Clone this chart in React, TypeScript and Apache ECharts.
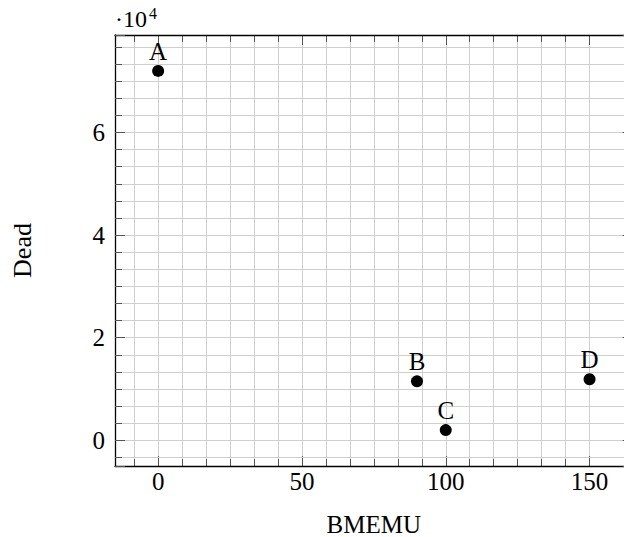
import React, { useEffect, useRef } from 'react';
import * as echarts from 'echarts';

const pointNames = ['A', 'B', 'C', 'D'];
const bmemuValues = [0, 90, 100, 150];
const deadValues = [72000, 11500, 2000, 11900];
const xLabelValues = [0, 50, 100, 150];
const yLabelValues = [0, 20000, 40000, 60000];
const xRange = [-15, 165];
const xGridMax = 150; // last x grid line / tick value
const yRange = [-5000, 79000];
const xTitle = 'BMEMU';
const yTitle = 'Dead';
const scaleBase = '·10';
const scaleExp = '4';
const yScaleDivisor = 10000;

const FONT = "'Liberation Serif', 'Times New Roman', serif";

export default function App() {
  const ref = useRef<HTMLDivElement>(null);
  useEffect(() => {
    const chart = echarts.init(ref.current!, null, { renderer: 'svg' });
    const W = 624;
    const plotLeft = 115;
    const plotRight = 632.7; // right frame lies just beyond the page edge
    const pxPerUnit = (plotRight - plotLeft) / (xRange[1] - xRange[0]);
    const gridMaxPx = plotLeft + (xGridMax - xRange[0]) * pxPerUnit;

    const gridColor = '#cfcfcf';
    const tickColor = '#555';
    const axisLineStyle = { color: '#000', width: 1.3 };
    const tickOn = {
      axisTick: { show: true, inside: true, length: 10, lineStyle: { color: tickColor, width: 1 } },
      minorTick: { show: true, splitNumber: 6, length: 7, lineStyle: { color: tickColor, width: 1 } },
    };
    const tickOff = { axisTick: { show: false }, minorTick: { show: false } };
    const lineOn = { axisLine: { show: true, onZero: false, lineStyle: axisLineStyle } };
    const lineOff = { axisLine: { show: false, onZero: false } };
    const noSplit = { splitLine: { show: false }, minorSplitLine: { show: false } };

    const data = bmemuValues.map((x, i) => ({ name: pointNames[i], value: [x, deadValues[i]] }));
    chart.setOption({
      animation: false,
      grid: [
        { left: plotLeft, top: 35, right: W - plotRight, bottom: 71, containLabel: false, outerBoundsMode: 'none' },
        { left: plotLeft, top: 35, right: W - gridMaxPx, bottom: 71, containLabel: false, outerBoundsMode: 'none' },
      ],
      xAxis: [
        {
          gridIndex: 0, type: 'value', min: xRange[0], max: xRange[1], splitNumber: 4, position: 'bottom',
          ...lineOn, ...tickOff, ...noSplit,
          axisLabel: {
            show: true, margin: 3, color: '#000', fontSize: 25, fontFamily: FONT,
            formatter: (v: number) => (xLabelValues.includes(v) ? String(v) : ''),
          },
          name: xTitle, nameLocation: 'middle', nameGap: 48,
          nameTextStyle: { color: '#000', fontSize: 25, lineHeight: 20, fontFamily: FONT },
          z: 4,
        },
        {
          gridIndex: 0, type: 'value', min: xRange[0], max: xRange[1], splitNumber: 4, position: 'top',
          ...lineOn, ...tickOff, ...noSplit,
          axisLabel: { show: false },
          z: 4,
        },
        {
          gridIndex: 1, type: 'value', min: xRange[0], max: xGridMax, splitNumber: 4, position: 'bottom',
          ...lineOff, ...tickOn,
          axisLabel: { show: false },
          splitLine: { show: true, showMinLine: false, lineStyle: { color: gridColor, width: 1 } },
          minorSplitLine: { show: true, lineStyle: { color: gridColor, width: 1 } },
        },
        {
          gridIndex: 1, type: 'value', min: xRange[0], max: xGridMax, splitNumber: 4, position: 'top',
          ...lineOff, ...tickOn, ...noSplit,
          axisLabel: { show: false },
        },
      ],
      yAxis: [
        {
          gridIndex: 0, type: 'value', min: yRange[0], max: yRange[1], splitNumber: 4, position: 'left',
          ...lineOn, ...tickOn,
          axisLabel: {
            show: true, margin: 10, color: '#000', fontSize: 25, fontFamily: FONT,
            formatter: (v: number) => (yLabelValues.includes(v) ? String(v / yScaleDivisor) : ''),
          },
          splitLine: { show: true, showMinLine: false, showMaxLine: false, lineStyle: { color: gridColor, width: 1 } },
          minorSplitLine: { show: true, lineStyle: { color: gridColor, width: 1 } },
          name: yTitle, nameLocation: 'middle', nameGap: 80,
          nameTextStyle: { color: '#000', fontSize: 26, fontFamily: FONT },
          z: 4,
        },
        {
          gridIndex: 0, type: 'value', min: yRange[0], max: yRange[1], splitNumber: 4, position: 'right',
          ...lineOn, ...tickOn, ...noSplit,
          axisLabel: { show: false },
          z: 4,
        },
        {
          gridIndex: 1, type: 'value', min: yRange[0], max: yRange[1], show: false,
          ...noSplit,
        },
      ],
      graphic: [
        {
          type: 'text', x: 115, y: 19,
          style: { text: scaleBase, fontSize: 24, fontFamily: FONT, fill: '#000', verticalAlign: 'middle' },
        },
        {
          type: 'text', x: 149, y: 13,
          style: { text: scaleExp, fontSize: 16, fontFamily: FONT, fill: '#000', verticalAlign: 'middle' },
        },
      ],
      series: [
        {
          type: 'scatter',
          xAxisIndex: 0,
          yAxisIndex: 0,
          data,
          symbol: 'circle',
          symbolSize: 12,
          itemStyle: { color: '#000', opacity: 1 },
          label: {
            show: true, position: 'top', distance: 1, color: '#000',
            fontSize: 25, fontFamily: FONT,
            formatter: (p: any) => p.name,
          },
          z: 5,
        },
      ],
    });
    return () => chart.dispose();
  }, []);
  return (
    <div
      ref={ref}
      style={{ position: 'fixed', left: 0, top: 0, width: 624, height: 537, overflow: 'hidden', background: '#fff' }}
    />
  );
}
